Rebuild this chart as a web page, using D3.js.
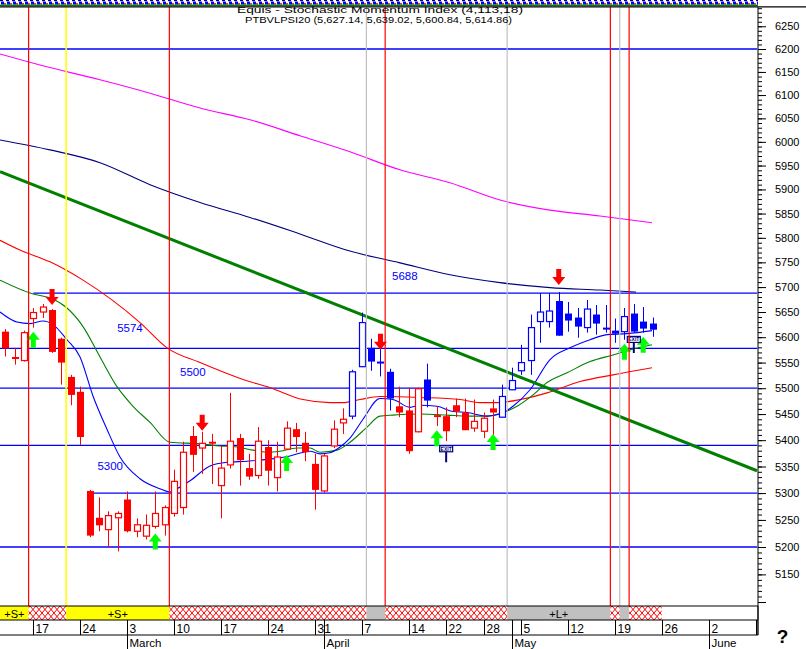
<!DOCTYPE html>
<html><head><meta charset="utf-8">
<script src="https://cdn.jsdelivr.net/npm/d3@7"></script>
<style>
body{margin:0;background:#fff;overflow:hidden}
svg{display:block}
text{font-family:"Liberation Sans",Arial,sans-serif}
</style>
</head><body>
<svg id="c" width="806" height="649"></svg>
<script>
// ---------------- DATA ----------------
const titleLine1 = "Equis - Stochastic Momentum Index (4,113,18)";
const titleLine2 = "PTBVLPSI20 (5,627.14, 5,639.02, 5,600.84, 5,614.86)";

// candles, index 0 = 12 Feb
const opens  = [5611,5561,5554,5637,5650,5654,5597,5522,5493,5304,5254,5232,5254,5288,5229,5220,5238,5241,5262,5273,
                5408,5385,5397,5314,5353,5404,5347,5333,5387,5329,5383,5421,5395,5355,5304,5389,5433,5446,5542,5579,
                5552,5532,5465,5457,5416,5517,5448,5446,5467,5453,5423,5417,5461,5444,5497,5534,5554,5631,5631,5672,
                5647,5639,5619,5645,5619,5613,5611,5647,5631,5627.14];
const highs  = [5616,5579,5613,5658,5666,5656,5599,5526,5503,5306,5292,5266,5266,5303,5253,5260,5303,5277,5344,5397,
                5427,5416,5412,5389,5491,5412,5374,5425,5400,5397,5436,5433,5416,5374,5374,5438,5461,5536,5649,5597,
                5577,5538,5503,5501,5501,5548,5465,5463,5480,5480,5478,5453,5478,5507,5540,5585,5645,5688,5688,5690,
                5670,5658,5674,5664,5664,5637,5658,5666,5660,5639.02];
const lows   = [5562,5546,5552,5619,5638,5569,5507,5467,5391,5218,5229,5199,5192,5227,5218,5214,5234,5221,5256,5260,
                5340,5336,5317,5253,5346,5314,5325,5327,5314,5303,5381,5377,5360,5269,5301,5385,5412,5440,5541,5534,
                5523,5457,5444,5374,5415,5463,5427,5398,5444,5419,5416,5404,5404,5444,5497,5526,5526,5589,5619,5603,
                5611,5599,5609,5605,5609,5589,5595,5609,5609,5600.84];
const closes = [5578,5557,5609,5649,5660,5571,5550,5487,5406,5221,5240,5258,5262,5229,5241,5240,5262,5273,5322,5377,
                5372,5394,5395,5347,5398,5362,5331,5398,5342,5368,5423,5406,5377,5306,5370,5421,5440,5532,5629,5552,
                5551,5480,5453,5379,5499,5476,5446,5417,5455,5419,5436,5442,5453,5484,5515,5550,5619,5650,5652,5603,
                5633,5621,5656,5627,5615,5607,5641,5611,5617,5614.86];
// candles drawn in the "long" colour (index ranges)
const longRanges = [[37,41],[45,45],[53,69]];

// moving averages: [day index, value]
const maShort = [[-0.55,5650],[1.26,5630],[2.65,5627],[4.03,5632],[5.1,5625],[6.59,5595],[7.98,5561],[9.36,5485],
  [10.85,5421],[12.24,5368],[14.37,5327],[16.5,5308],[17.57,5302],[18.31,5308],[19.7,5323],[21.83,5351],[23.64,5358],
  [25.78,5360],[28.23,5364],[30.36,5370],[32.49,5379],[33.56,5374],[34.62,5376],[35.69,5387],[36.75,5404],[38.14,5440],
  [39.95,5480],[41.33,5478],[43.15,5463],[44.21,5467],[46.02,5465],[47.73,5455],[49.22,5453],[51.35,5446],[52.74,5450],
  [54.12,5465],[55.94,5497],[58.07,5556],[60.2,5579],[62.33,5595],[64.14,5605],[66.27,5607],[68.94,5613]];
const maMid = [[-0.55,5714],[2.65,5688],[5.31,5674],[6.59,5658],[8.3,5621],[10.11,5561],[11.92,5503],[13.63,5465],
  [15.44,5434],[17.57,5396],[20.77,5393],[22.9,5389],[24.71,5387],[26.42,5381],[28.23,5377],[29.29,5379],[31.1,5385],
  [32.49,5385],[33.56,5377],[35.37,5381],[36.75,5396],[38.57,5425],[39.95,5446],[41.33,5448],[44.21,5450],[47.09,5448],
  [49.22,5446],[51.35,5446],[52.74,5451],[54.55,5465],[56.26,5487],[57.75,5511],[59.88,5530],[62.33,5552],[64.78,5565],
  [66.59,5575],[68.94,5585]];
const maLong = [[-0.55,5795],[1.58,5775],[4.78,5751],[8.3,5714],[14.37,5629],[17.25,5579],[20.77,5550],[25.35,5517],
  [28.23,5501],[31.74,5478],[34.62,5472],[36.0,5472],[37.82,5478],[39.95,5484],[44.21,5482],[48.48,5478],[50.61,5472],
  [52.42,5472],[54.87,5478],[57.75,5491],[61.27,5513],[64.78,5526],[68.94,5540]];
const ma100 = [[-0.55,6004],[4.78,5983],[10.11,5956],[15.44,5910],[20.77,5873],[26.09,5842],[31.42,5808],[36.75,5773],
  [42.08,5749],[47.41,5725],[52.74,5709],[58.07,5699],[63.4,5694],[67.23,5690]];
const ma200 = [[-0.55,6189],[3.71,6165],[10.11,6133],[15.44,6104],[20.77,6072],[26.09,6047],[31.42,6013],[36.75,5979],
  [42.08,5941],[47.41,5914],[52.74,5878],[58.07,5857],[63.4,5845],[68.94,5831]];

const trendPts = [[-0.55,5937],[80.13,5342]];

const levelVals  = [6200,5688,5578,5500,5390,5300,5200];
const levelStart = [-0.55,3,-0.55,-0.55,-0.55,9,-0.55];
const levelLabels = ["5688","5574","5500","5300"];
const levelLabelIdx = [42.6,13.3,20.0,11.2];
const levelLabelVal = [5714,5611,5524,5344];

const downIdx = [5,21,40,59];
const downVal = [5664,5418,5575,5704];
const upIdx = [3,16,30,46,52,66,68];
const upVal = [5611,5225,5372,5419,5412,5587,5601];
const exitIdx = [47,67];
const exitVal = [5358,5569];

// signal band segments (boundaries in day index)
const bandFrom  = [-0.55,2.5,6.5,17.5,38.5,40.5,53.5,64.5,65.5,66.5];
const bandTo    = [2.5,6.5,17.5,38.5,40.5,53.5,64.5,65.5,66.5,69.97];
const bandState = ["S","X","S","X","L","X","L","X","L","X"];

const tickIdx    = [3,8,13,18,23,28,33,38,43,47,51,55,60,65,70,75,80];
const tickLabels = ["17","24","3","10","17","24","31","7","14","22","28","5","12","19","26","2","9"];
const monthIdx    = [13,34,54,75];
const monthLabels = ["March","April","May","June"];

const yMajor = d3.range(5100,6251,50);
const yMinor = d3.range(5100,6291,10);

// ---------------- DRAW ----------------
const svg = d3.select('#c');
const defs = svg.append('defs');
const PL=0, PR=757.5, PT=7, PB=605.5;
const x = d3.scaleLinear().domain([0,80]).range([5.15,755.8]);
const y = d3.scaleLog().domain([5094.6,6292.7]).range([605,7]);

defs.append('clipPath').attr('id','plot').append('rect')
  .attr('x',PL).attr('y',PT).attr('width',PR-PL).attr('height',PB-PT);

const xh = defs.append('pattern').attr('id','xh').attr('patternUnits','userSpaceOnUse')
  .attr('width',6).attr('height',7).attr('x',0).attr('y',606);
xh.append('rect').attr('width',6).attr('height',7).attr('fill','#fff');
xh.append('path').attr('d','M0,0L6,7M6,0L0,7').attr('stroke','#ff0000').attr('stroke-width',1);

const tb = defs.append('pattern').attr('id','tb').attr('patternUnits','userSpaceOnUse').attr('width',6).attr('height',8);
tb.append('rect').attr('width',6).attr('height',8).attr('fill','#fff');
tb.append('rect').attr('x',0).attr('y',0).attr('width',3).attr('height',1.2).attr('fill','#000080');
tb.append('rect').attr('x',1).attr('y',1.6).attr('width',3).attr('height',3).attr('fill','#0000ff');
tb.append('rect').attr('x',4).attr('y',3.2).attr('width',2).attr('height',1.4).attr('fill','#ff0000');
tb.append('rect').attr('x',0).attr('y',4.6).attr('width',6).attr('height',1.8).attr('fill','#008000');

svg.append('rect').attr('width',806).attr('height',649).attr('fill','#fff');

const g = svg.append('g').attr('clip-path','url(#plot)');

// signal vertical lines
const stateColor = {S:'#ffff00', X:'#ff0000', L:'#c0c0c0'};
bandFrom.forEach((b,i)=>{ if(i===0) return;
  svg.append('line').attr('x1',x(b)).attr('x2',x(b)).attr('y1',PT).attr('y2',606)
    .attr('stroke',stateColor[bandState[i]]).attr('stroke-width', bandState[i]==='S'?1.6:1.2);
});

// horizontal level lines
levelVals.forEach((v,i)=>{
  g.append('line').attr('x1',x(levelStart[i])).attr('x2',PR).attr('y1',y(v)).attr('y2',y(v))
   .attr('stroke','#0000ff').attr('stroke-width',1.3);
});
levelLabels.forEach((t,i)=>{
  g.append('text').attr('x',x(levelLabelIdx[i])).attr('y',y(levelLabelVal[i])).attr('text-anchor','middle')
   .attr('font-size','11.5px').attr('fill','#0000ff').text(t);
});

// moving averages
const line = d3.line().x(d=>x(d[0])).y(d=>y(d[1])).curve(d3.curveMonotoneX);
[[ma200,'#ff00ff'],[ma100,'#000080'],[maLong,'#ff0000'],[maMid,'#008000'],[maShort,'#0000ff']].forEach(([d,c])=>{
  g.append('path').attr('d',line(d)).attr('fill','none').attr('stroke',c).attr('stroke-width',1.1);
});
// trend line
g.append('path').attr('d',d3.line().x(d=>x(d[0])).y(d=>y(d[1]))(trendPts))
  .attr('fill','none').attr('stroke','#008000').attr('stroke-width',3);

// candles
const isLong = i => longRanges.some(r=>i>=r[0]&&i<=r[1]);
opens.forEach((o,i)=>{
  const c = closes[i], col = isLong(i)?'#0000ff':'#ff0000';
  const cx = Math.round(x(i))+0.5;
  g.append('line').attr('x1',cx).attr('x2',cx).attr('y1',y(highs[i])).attr('y2',y(lows[i]))
    .attr('stroke',col).attr('stroke-width',1);
  const top = y(Math.max(o,c)), bot = y(Math.min(o,c));
  const h = Math.max(bot-top,1);
  if(c<o){
    g.append('rect').attr('x',cx-3.5).attr('y',top).attr('width',7).attr('height',Math.max(h,2)).attr('fill',col);
  } else {
    g.append('rect').attr('x',cx-3).attr('y',top).attr('width',6).attr('height',h)
      .attr('fill','#fff').attr('stroke',col).attr('stroke-width',1.2);
  }
});

// arrows
downIdx.forEach((d,i)=>{
  const cx=x(d), t=y(downVal[i]);
  g.append('path').attr('fill','#ff0000')
   .attr('d',`M${cx-2.5},${t-16}L${cx+2.5},${t-16}L${cx+2.5},${t-8}L${cx+6.5},${t-8}L${cx},${t}L${cx-6.5},${t-8}L${cx-2.5},${t-8}Z`);
});
upIdx.forEach((d,i)=>{
  const cx=x(d), t=y(upVal[i]);
  g.append('path').attr('fill','#00ff00')
   .attr('d',`M${cx},${t}L${cx+6.5},${t+8}L${cx+2.5},${t+8}L${cx+2.5},${t+16}L${cx-2.5},${t+16}L${cx-2.5},${t+8}L${cx-6.5},${t+8}Z`);
});
exitIdx.forEach((d,i)=>{
  const cx=x(d), b=y(exitVal[i]);
  g.append('line').attr('x1',cx).attr('x2',cx).attr('y1',b-11).attr('y2',b).attr('stroke','#000080').attr('stroke-width',2);
  g.append('rect').attr('x',cx-6.5).attr('y',b-16.5).attr('width',13).attr('height',6)
    .attr('fill','#fff').attr('stroke','#000080').attr('stroke-width',1.2);
  g.append('text').attr('x',cx).attr('y',b-11.6).attr('text-anchor','middle').attr('font-size','5px')
    .attr('font-weight','bold').attr('fill','#000080').text('EXIT');
});

// top band
svg.append('rect').attr('x',0).attr('y',0).attr('width',758).attr('height',6.4).attr('fill','url(#tb)');
svg.append('line').attr('x1',0).attr('x2',806).attr('y1',6.9).attr('y2',6.9).attr('stroke','#000').attr('stroke-width',1.1);

// title
svg.append('text').attr('x',237).attr('y',12.8).attr('font-size','9.5px').attr('fill','#000')
  .attr('textLength',286).attr('lengthAdjust','spacingAndGlyphs').text(titleLine1);
svg.append('text').attr('x',245).attr('y',22.6).attr('font-size','9.5px').attr('fill','#000')
  .attr('textLength',267).attr('lengthAdjust','spacingAndGlyphs').text(titleLine2);

// right axis
const axMinor = d3.axisRight(y).tickValues(yMinor).tickSize(4).tickSizeOuter(0).tickFormat('');
svg.append('g').attr('transform','translate(758,0)').call(axMinor)
  .call(s=>s.select('.domain').remove()).selectAll('line').attr('stroke','#000');
const axMajor = d3.axisRight(y).tickValues(yMajor).tickSize(8).tickSizeOuter(0).tickPadding(9)
  .tickFormat(d=> d>=5150 ? d3.format('d')(d) : '');
const am = svg.append('g').attr('transform','translate(758,0)').call(axMajor);
am.select('.domain').remove();
am.selectAll('line').attr('stroke','#000');
am.selectAll('text').attr('font-size','11px').attr('fill','#000').attr('font-family','"Liberation Sans",Arial,sans-serif');
svg.append('line').attr('x1',758).attr('x2',758).attr('y1',PT).attr('y2',635).attr('stroke','#000');

// signal band
bandFrom.forEach((b,i)=>{
  const st = bandState[i], x0=Math.max(0,x(b)), x1=x(bandTo[i]);
  svg.append('rect').attr('x',x0).attr('y',606).attr('width',x1-x0).attr('height',14)
    .attr('fill', st==='S'?'#ffff00':st==='L'?'#c0c0c0':'url(#xh)');
  if(st!=='X' && x1-x0>20){
    svg.append('text').attr('x',(x0+x1)/2).attr('y',617.5).attr('text-anchor','middle')
      .attr('font-size','11px').attr('fill','#000').text(st==='S'?'+S+':'+L+');
  }
});
[606,620,635].forEach(yy=>svg.append('line').attr('x1',0).attr('x2',758).attr('y1',yy).attr('y2',yy)
  .attr('stroke','#000').attr('stroke-width',1.1));

// date ticks
tickIdx.forEach((d,i)=>{
  const xx = Math.round(x(d))+0.5;
  svg.append('line').attr('x1',xx).attr('x2',xx).attr('y1',620).attr('y2',635).attr('stroke','#000');
  svg.append('text').attr('x',xx+2).attr('y',632.5).attr('font-size','12px').attr('fill','#000').text(tickLabels[i]);
});
monthIdx.forEach((d,i)=>{
  const xx = Math.round(x(d))+0.5;
  svg.append('line').attr('x1',xx).attr('x2',xx).attr('y1',620).attr('y2',649).attr('stroke','#000');
  svg.append('text').attr('x',xx+2).attr('y',646.5).attr('font-size','11.5px').attr('fill','#000').text(monthLabels[i]);
});
svg.append('rect').attr('x',758.6).attr('y',620).attr('width',48).attr('height',16).attr('fill','#fff');
svg.append('line').attr('x1',758).attr('x2',758).attr('y1',606).attr('y2',635).attr('stroke','#000');

svg.append('text').attr('x',782.5).attr('y',643).attr('text-anchor','middle').attr('font-size','19px')
  .attr('font-weight','bold').attr('font-family','"DejaVu Serif",serif').attr('fill','#000').text('?');
</script>
</body></html>
